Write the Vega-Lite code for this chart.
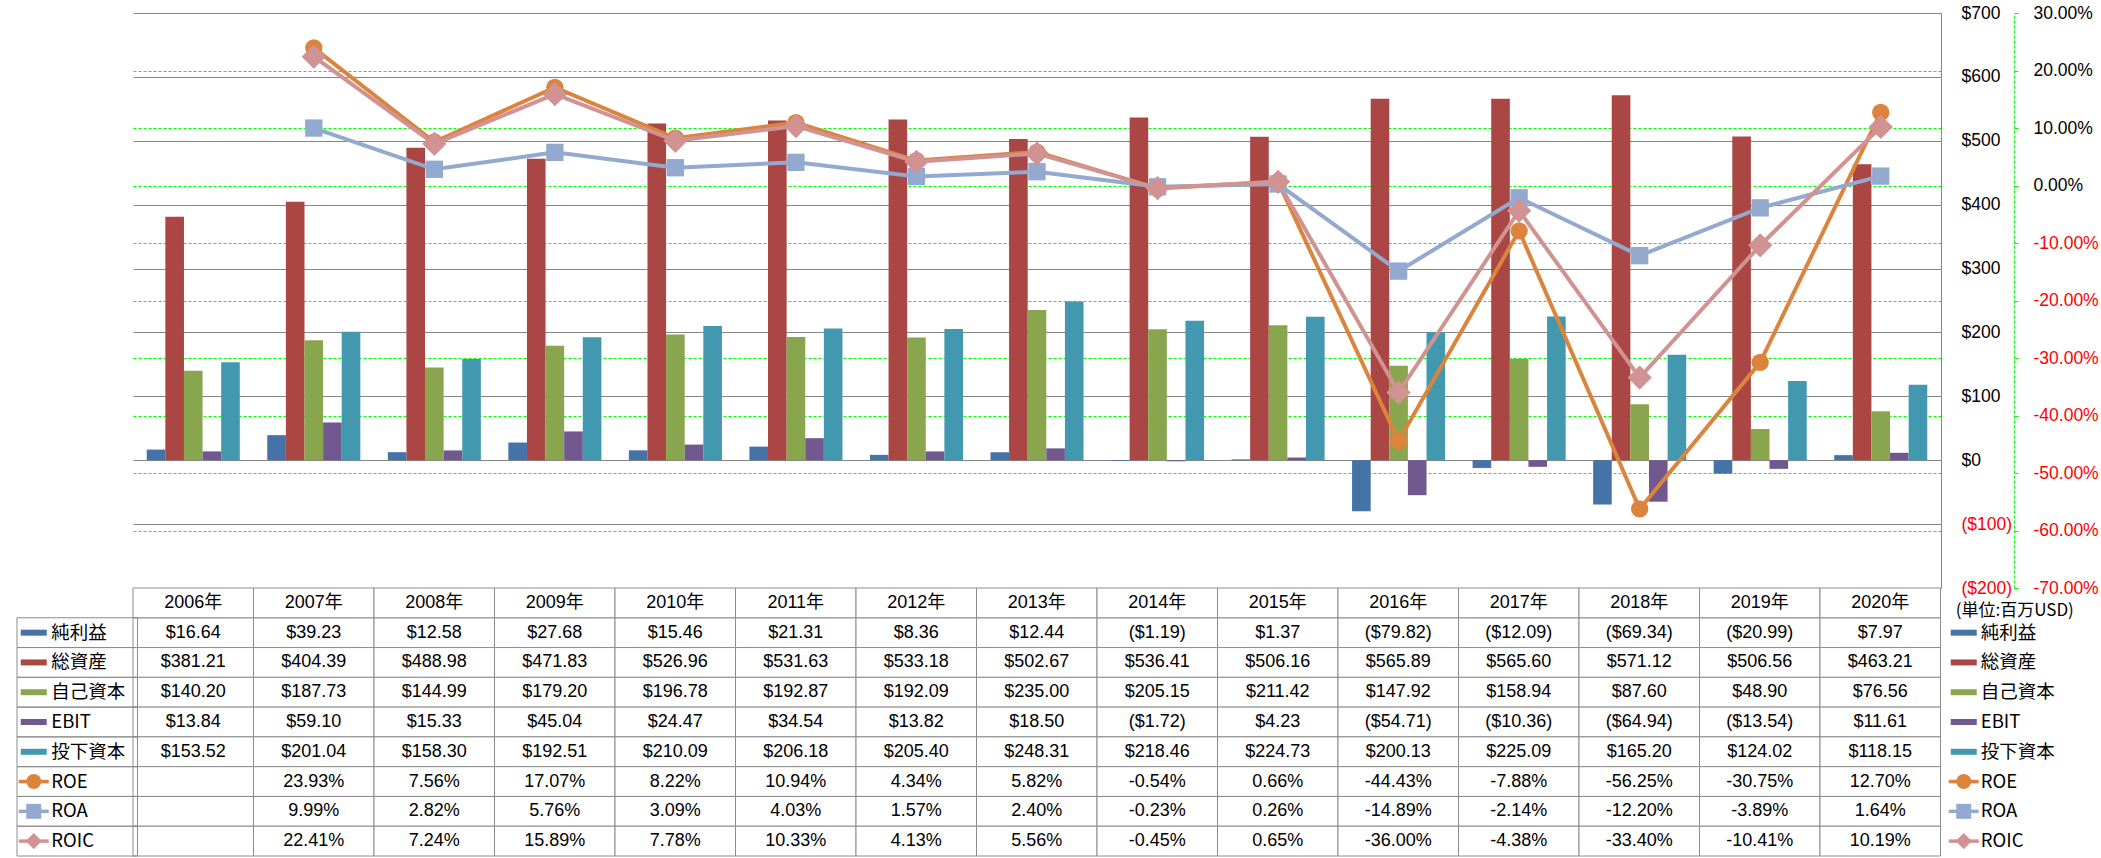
{
  "$schema": "https://vega.github.io/schema/vega-lite/v6.json",
  "background": "white",
  "padding": {"left": 11, "top": 4, "right": 0, "bottom": 0},
  "spacing": 0,
  "bounds": "flush",
  "datasets": {
    "fin": [
      {"year": "2006年", "純利益": 16.64, "総資産": 381.21, "自己資本": 140.20, "EBIT": 13.84, "投下資本": 153.52, "ROE": null, "ROA": null, "ROIC": null},
      {"year": "2007年", "純利益": 39.23, "総資産": 404.39, "自己資本": 187.73, "EBIT": 59.10, "投下資本": 201.04, "ROE": 0.2393, "ROA": 0.0999, "ROIC": 0.2241},
      {"year": "2008年", "純利益": 12.58, "総資産": 488.98, "自己資本": 144.99, "EBIT": 15.33, "投下資本": 158.30, "ROE": 0.0756, "ROA": 0.0282, "ROIC": 0.0724},
      {"year": "2009年", "純利益": 27.68, "総資産": 471.83, "自己資本": 179.20, "EBIT": 45.04, "投下資本": 192.51, "ROE": 0.1707, "ROA": 0.0576, "ROIC": 0.1589},
      {"year": "2010年", "純利益": 15.46, "総資産": 526.96, "自己資本": 196.78, "EBIT": 24.47, "投下資本": 210.09, "ROE": 0.0822, "ROA": 0.0309, "ROIC": 0.0778},
      {"year": "2011年", "純利益": 21.31, "総資産": 531.63, "自己資本": 192.87, "EBIT": 34.54, "投下資本": 206.18, "ROE": 0.1094, "ROA": 0.0403, "ROIC": 0.1033},
      {"year": "2012年", "純利益": 8.36, "総資産": 533.18, "自己資本": 192.09, "EBIT": 13.82, "投下資本": 205.40, "ROE": 0.0434, "ROA": 0.0157, "ROIC": 0.0413},
      {"year": "2013年", "純利益": 12.44, "総資産": 502.67, "自己資本": 235.00, "EBIT": 18.50, "投下資本": 248.31, "ROE": 0.0582, "ROA": 0.0240, "ROIC": 0.0556},
      {"year": "2014年", "純利益": -1.19, "総資産": 536.41, "自己資本": 205.15, "EBIT": -1.72, "投下資本": 218.46, "ROE": -0.0054, "ROA": -0.0023, "ROIC": -0.0045},
      {"year": "2015年", "純利益": 1.37, "総資産": 506.16, "自己資本": 211.42, "EBIT": 4.23, "投下資本": 224.73, "ROE": 0.0066, "ROA": 0.0026, "ROIC": 0.0065},
      {"year": "2016年", "純利益": -79.82, "総資産": 565.89, "自己資本": 147.92, "EBIT": -54.71, "投下資本": 200.13, "ROE": -0.4443, "ROA": -0.1489, "ROIC": -0.3600},
      {"year": "2017年", "純利益": -12.09, "総資産": 565.60, "自己資本": 158.94, "EBIT": -10.36, "投下資本": 225.09, "ROE": -0.0788, "ROA": -0.0214, "ROIC": -0.0438},
      {"year": "2018年", "純利益": -69.34, "総資産": 571.12, "自己資本": 87.60, "EBIT": -64.94, "投下資本": 165.20, "ROE": -0.5625, "ROA": -0.1220, "ROIC": -0.3340},
      {"year": "2019年", "純利益": -20.99, "総資産": 506.56, "自己資本": 48.90, "EBIT": -13.54, "投下資本": 124.02, "ROE": -0.3075, "ROA": -0.0389, "ROIC": -0.1041},
      {"year": "2020年", "純利益": 7.97, "総資産": 463.21, "自己資本": 76.56, "EBIT": 11.61, "投下資本": 118.15, "ROE": 0.1270, "ROA": 0.0164, "ROIC": 0.1019}
    ]
  },
  "data": {"name": "fin"},
  "vconcat": [
    {
      "width": 1808,
      "height": 575,
      "layer": [
        {
          "transform": [{"fold": ["純利益", "総資産", "自己資本", "EBIT", "投下資本"], "as": ["series", "value"]}],
          "mark": {"type": "bar"},
          "encoding": {
            "x": {"field": "year", "type": "nominal", "scale": {"domain": ["2006年","2007年","2008年","2009年","2010年","2011年","2012年","2013年","2014年","2015年","2016年","2017年","2018年","2019年","2020年"], "paddingInner": 0.228, "paddingOuter": 0.114}, "axis": null},
            "xOffset": {"field": "series", "type": "nominal", "scale": {"domain": ["純利益", "総資産", "自己資本", "EBIT", "投下資本"], "paddingInner": 0, "paddingOuter": 0}},
            "y": {
              "field": "value", "type": "quantitative",
              "scale": {"domain": [-200, 700], "nice": false, "zero": false},
              "axis": {
                "orient": "right", "title": null,
                "values": [-200, -100, 0, 100, 200, 300, 400, 500, 600, 700],
                "grid": true, "gridColor": "#868686", "gridWidth": 1,
                "domain": true, "domainColor": "#868686", "domainWidth": 1,
                "ticks": false, "tickSize": 0,
                "labelPadding": 20, "labelAlign": "left",
                "labelFont": "Liberation Sans", "labelFontSize": 17.5,
                "labelExpr": "format(datum.value, '($,.0f')",
                "labelColor": {"condition": {"test": "datum.value < 0", "value": "#FF0000"}, "value": "#000000"}
              }
            },
            "color": {"field": "series", "type": "nominal", "scale": {"domain": ["純利益", "総資産", "自己資本", "EBIT", "投下資本", "ROE", "ROA", "ROIC"], "range": ["#4572A7", "#AA4643", "#89A54E", "#71588F", "#4198AF", "#DB843D", "#93A9CF", "#D19392"]}, "legend": null}
          }
        },
        {
          "transform": [{"fold": ["ROE", "ROA", "ROIC"], "as": ["series", "value"]}, {"filter": "isValid(datum.value)"}],
          "mark": {"type": "line", "strokeWidth": 4},
          "encoding": {
            "x": {"field": "year", "type": "nominal"},
            "y": {
              "field": "value", "type": "quantitative",
              "scale": {"domain": [-0.7, 0.3], "nice": false, "zero": false},
              "axis": {
                "orient": "right", "offset": 73, "title": null,
                "values": [-0.7, -0.6, -0.5, -0.4, -0.3, -0.2, -0.1, 0, 0.1, 0.2, 0.3],
                "grid": true,
                "gridColor": {"condition": {"test": "datum.value > 0.29 || datum.value < -0.69", "value": "transparent"}, "value": "#00FF00"},
                "gridDash": [3, 2], "gridWidth": 1,
                "domain": true, "domainColor": "#00FF00", "domainDash": [3, 2],
                "ticks": true, "tickColor": "#00FF00", "tickSize": 4,
                "labelPadding": 15, "labelAlign": "left",
                "labelFont": "Liberation Sans", "labelFontSize": 17.5,
                "labelExpr": "format(datum.value, '.2%')",
                "labelColor": {"condition": {"test": "datum.value < 0", "value": "#FF0000"}, "value": "#000000"}
              }
            },
            "color": {"field": "series", "type": "nominal", "scale": {"domain": ["純利益", "総資産", "自己資本", "EBIT", "投下資本", "ROE", "ROA", "ROIC"], "range": ["#4572A7", "#AA4643", "#89A54E", "#71588F", "#4198AF", "#DB843D", "#93A9CF", "#D19392"]}, "legend": null}
          }
        },
        {
          "transform": [{"fold": ["ROE", "ROA", "ROIC"], "as": ["series", "value"]}, {"filter": "isValid(datum.value)"}],
          "mark": {"type": "point", "filled": true, "opacity": 1, "size": 300},
          "encoding": {
            "x": {"field": "year", "type": "nominal"},
            "y": {"field": "value", "type": "quantitative", "scale": {"domain": [-0.7, 0.3], "nice": false, "zero": false}, "axis": null},
            "color": {"field": "series", "type": "nominal", "scale": {"domain": ["純利益", "総資産", "自己資本", "EBIT", "投下資本", "ROE", "ROA", "ROIC"], "range": ["#4572A7", "#AA4643", "#89A54E", "#71588F", "#4198AF", "#DB843D", "#93A9CF", "#D19392"]}, "legend": null},
            "shape": {"field": "series", "type": "nominal", "scale": {"domain": ["ROE", "ROA", "ROIC"], "range": ["circle", "square", "M-1.4,0L0,-1.4L1.4,0L0,1.4Z"]}, "legend": null}
          }
        }
      ],
      "resolve": {"scale": {"y": "independent"}}
    },
    {
      "width": 1928,
      "height": 268,
      "encoding": {
        "x": {"field": "year", "type": "nominal", "scale": {"domain": ["2006年","2007年","2008年","2009年","2010年","2011年","2012年","2013年","2014年","2015年","2016年","2017年","2018年","2019年","2020年","legend"], "paddingInner": 0, "paddingOuter": 0}, "axis": null},
        "y": {"field": "series", "type": "nominal", "scale": {"domain": ["年", "純利益", "総資産", "自己資本", "EBIT", "投下資本", "ROE", "ROA", "ROIC"], "paddingInner": 0, "paddingOuter": 0}, "axis": null},
        "color": {"field": "series", "type": "nominal", "scale": {"domain": ["純利益", "総資産", "自己資本", "EBIT", "投下資本", "ROE", "ROA", "ROIC"], "range": ["#4572A7", "#AA4643", "#89A54E", "#71588F", "#4198AF", "#DB843D", "#93A9CF", "#D19392"]}, "legend": null}
      },
      "layer": [
        {
          "transform": [{"fold": ["純利益", "総資産", "自己資本", "EBIT", "投下資本", "ROE", "ROA", "ROIC"], "as": ["series", "value"]}],
          "mark": {"type": "rect", "fill": "#FFFFFF", "stroke": "#8C8C8C", "strokeWidth": 1},
          "encoding": {"color": {"value": "#FFFFFF"}}
        },
        {
          "mark": {"type": "rect", "fill": "#FFFFFF", "stroke": "#8C8C8C", "strokeWidth": 1},
          "encoding": {"y": {"datum": "年", "type": "nominal"}, "color": {"value": "#FFFFFF"}}
        },
        {
          "transform": [{"filter": "datum.year == '2006年'"}, {"fold": ["純利益", "総資産", "自己資本", "EBIT", "投下資本", "ROE", "ROA", "ROIC"], "as": ["series", "value"]}],
          "mark": {"type": "rect", "fill": "transparent", "stroke": "#8C8C8C", "strokeWidth": 1, "xOffset": -116, "x2Offset": -120.5},
          "encoding": {"color": {"value": "transparent"}}
        },
        {
          "mark": {"type": "text", "font": "Liberation Sans, Noto Sans CJK JP", "fontSize": 18, "baseline": "middle"},
          "encoding": {"y": {"datum": "年", "type": "nominal"}, "text": {"field": "year"}, "color": {"value": "#000000"}}
        },
        {
          "transform": [{"fold": ["純利益", "総資産", "自己資本", "EBIT", "投下資本"], "as": ["series", "value"]}, {"filter": "isValid(datum.value)"}],
          "mark": {"type": "text", "font": "Liberation Sans", "fontSize": 18, "baseline": "middle"},
          "encoding": {"text": {"field": "value", "type": "quantitative", "format": "($.2f"}, "color": {"value": "#000000"}}
        },
        {
          "transform": [{"fold": ["ROE", "ROA", "ROIC"], "as": ["series", "value"]}, {"filter": "isValid(datum.value)"}],
          "mark": {"type": "text", "font": "Liberation Sans", "fontSize": 18, "baseline": "middle"},
          "encoding": {"text": {"field": "value", "type": "quantitative", "format": ".2%"}, "color": {"value": "#000000"}}
        },
        {
          "transform": [{"filter": "datum.year == '2006年'"}, {"fold": ["純利益", "総資産", "自己資本", "EBIT", "投下資本", "ROE", "ROA", "ROIC"], "as": ["series", "value"]}],
          "mark": {"type": "text", "font": "Noto Sans CJK JP", "fontSize": 18.5, "align": "left", "baseline": "middle", "dx": -142},
          "encoding": {"text": {"field": "series"}, "color": {"value": "#000000"}}
        },
        {
          "transform": [{"filter": "datum.year == '2006年'"}, {"fold": ["純利益", "総資産", "自己資本", "EBIT", "投下資本"], "as": ["series", "value"]}],
          "mark": {"type": "point", "shape": "M-1,-0.23H1V0.23H-1Z", "filled": true, "opacity": 1, "size": 676, "xOffset": -159.5}
        },
        {
          "transform": [{"filter": "datum.year == '2006年'"}, {"fold": ["ROE", "ROA", "ROIC"], "as": ["series", "value"]}],
          "mark": {"type": "point", "shape": "M-1,0H1", "filled": false, "opacity": 1, "strokeWidth": 3.5, "size": 900, "xOffset": -159.5}
        },
        {
          "transform": [{"filter": "datum.year == '2006年'"}, {"fold": ["ROE", "ROA", "ROIC"], "as": ["series", "value"]}],
          "mark": {"type": "point", "filled": true, "opacity": 1, "size": 225, "xOffset": -159.5},
          "encoding": {"shape": {"field": "series", "type": "nominal", "scale": {"domain": ["ROE", "ROA", "ROIC"], "range": ["circle", "square", "M-1.07,0L0,-1.07L1.07,0L0,1.07Z"]}, "legend": null}}
        },
        {
          "transform": [{"filter": "datum.year == '2006年'"}, {"fold": ["純利益", "総資産", "自己資本", "EBIT", "投下資本", "ROE", "ROA", "ROIC"], "as": ["series", "value"]}],
          "mark": {"type": "text", "font": "Noto Sans CJK JP", "fontSize": 18.5, "align": "left", "baseline": "middle", "dx": -20},
          "encoding": {"x": {"datum": "legend", "type": "nominal"}, "text": {"field": "series"}, "color": {"value": "#000000"}}
        },
        {
          "transform": [{"filter": "datum.year == '2006年'"}, {"fold": ["純利益", "総資産", "自己資本", "EBIT", "投下資本"], "as": ["series", "value"]}],
          "mark": {"type": "point", "shape": "M-1,-0.23H1V0.23H-1Z", "filled": true, "opacity": 1, "size": 676, "xOffset": -37},
          "encoding": {"x": {"datum": "legend", "type": "nominal"}}
        },
        {
          "transform": [{"filter": "datum.year == '2006年'"}, {"fold": ["ROE", "ROA", "ROIC"], "as": ["series", "value"]}],
          "mark": {"type": "point", "shape": "M-1,0H1", "filled": false, "opacity": 1, "strokeWidth": 3.5, "size": 900, "xOffset": -37},
          "encoding": {"x": {"datum": "legend", "type": "nominal"}}
        },
        {
          "transform": [{"filter": "datum.year == '2006年'"}, {"fold": ["ROE", "ROA", "ROIC"], "as": ["series", "value"]}],
          "mark": {"type": "point", "filled": true, "opacity": 1, "size": 225, "xOffset": -37},
          "encoding": {"x": {"datum": "legend", "type": "nominal"}, "shape": {"field": "series", "type": "nominal", "scale": {"domain": ["ROE", "ROA", "ROIC"], "range": ["circle", "square", "M-1.07,0L0,-1.07L1.07,0L0,1.07Z"]}, "legend": null}}
        },
        {
          "data": {"values": [{"note": "(単位:百万USD)"}]},
          "mark": {"type": "text", "font": "Noto Sans CJK JP", "fontSize": 17, "align": "left", "baseline": "middle", "dx": -45, "dy": 8},
          "encoding": {"x": {"datum": "legend", "type": "nominal"}, "y": {"datum": "年", "type": "nominal"}, "text": {"field": "note"}, "color": {"value": "#000000"}}
        }
      ]
    }
  ],
  "resolve": {"scale": {"shape": "independent"}},
  "config": {
    "view": {"stroke": null},
    "locale": {"number": {"decimal": ".", "thousands": ",", "grouping": [3], "currency": ["$", ""], "minus": "-"}}
  }
}
